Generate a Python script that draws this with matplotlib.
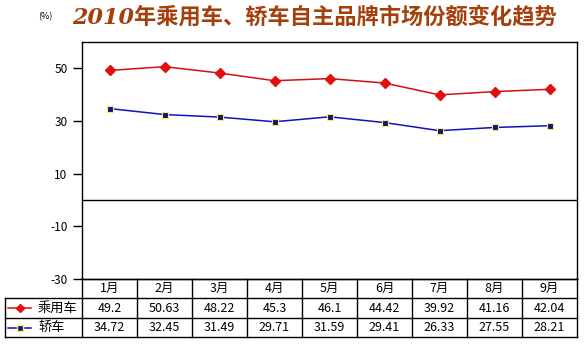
import matplotlib
matplotlib.use('Agg')
import matplotlib.pyplot as plt
from matplotlib.lines import Line2D

plt.rcParams['font.family'] = ['Noto Sans CJK SC', 'DejaVu Sans']

# data
months = ['1月', '2月', '3月', '4月', '5月', '6月', '7月', '8月', '9月']
series_names = ['乘用车', '轿车']
passenger = [49.2, 50.63, 48.22, 45.3, 46.1, 44.42, 39.92, 41.16, 42.04]
sedan = [34.72, 32.45, 31.49, 29.71, 31.59, 29.41, 26.33, 27.55, 28.21]
y_ticks = [50, 30, 10, -10, -30]

W, H = 586, 355
fig = plt.figure(figsize=(W / 100, H / 100), dpi=100)


def fx(px):
    return px / W


def fy(py):
    return 1 - py / H


# plot area in pixel terms
left, right, top, bottom = 82, 577, 42, 279
ax = fig.add_axes([fx(left), fy(bottom), (right - left) / W, (bottom - top) / H])

x = list(range(len(months)))
ax.plot(x, passenger, color='#d01010', lw=1.1, marker='D', ms=5,
        mfc='#e01010', mec='#e01010', zorder=3)
ax.plot(x, sedan, color='#1010c0', lw=1.1, marker='s', ms=5,
        mfc='#101090', mec='#f0f060', mew=0.8, zorder=3)

ax.axhline(0, color='black', lw=1)
ax.set_xlim(-0.5, len(months) - 0.5)
ax.set_ylim(-30, 60)
ax.set_yticks(y_ticks)
ax.set_yticklabels([str(t) for t in y_ticks], fontsize=8.5)
ax.tick_params(axis='y', direction='out', length=6.5, width=1, pad=4)
ax.set_xticks([])
for s in ax.spines.values():
    s.set_linewidth(1)
    s.set_color('black')

# data table underneath, drawn by hand
tbl_left = 5
row_edges = [279, 298, 318, 337]
col_w = (right - left) / len(months)
col_edges = [left + k * col_w for k in range(len(months) + 1)]


def hline(py, x0, x1):
    fig.add_artist(Line2D([fx(x0), fx(x1)], [fy(py)] * 2, color='black', lw=1))


def vline(px, y0, y1):
    fig.add_artist(Line2D([fx(px)] * 2, [fy(y0), fy(y1)], color='black', lw=1))


hline(row_edges[0], left, right)
for py in row_edges[1:]:
    hline(py, tbl_left, right)
vline(tbl_left, row_edges[1], row_edges[3])
for px in col_edges:
    vline(px, row_edges[0], row_edges[3])

rows = [months, [f'{v:g}' for v in passenger], [f'{v:g}' for v in sedan]]
for r, vals in enumerate(rows):
    cy = (row_edges[r] + row_edges[r + 1]) / 2
    for c, txt in enumerate(vals):
        cx = (col_edges[c] + col_edges[c + 1]) / 2
        fig.text(fx(cx), fy(cy), txt, fontsize=9, ha='center', va='center')

# legend keys inside the row label cells
for r, name, col, mk, mfc, mec in [(1, series_names[0], '#d01010', 'D', '#e01010', '#e01010'),
                                    (2, series_names[1], '#1010c0', 's', '#101090', '#f0f060')]:
    cy = (row_edges[r] + row_edges[r + 1]) / 2
    fig.add_artist(Line2D([fx(8), fx(31)], [fy(cy)] * 2, color=col, lw=1.1))
    fig.add_artist(Line2D([fx(20)], [fy(cy)], marker=mk, ms=4.5, mfc=mfc, mec=mec, lw=0))
    fig.text(fx(38), fy(cy), name, fontsize=9.5, ha='left', va='center')

fig.text(fx(45), fy(17), '(%)', fontsize=6.5, ha='center', va='center')
fig.text(fx(314), fy(18), '2010年乘用车、轿车自主品牌市场份额变化趋势',
         fontsize=16, fontweight='bold', style='italic', color='#a4400c',
         ha='center', va='center', family=['DejaVu Serif', 'Noto Sans CJK SC'])

fig.savefig('out.png', dpi=100)
